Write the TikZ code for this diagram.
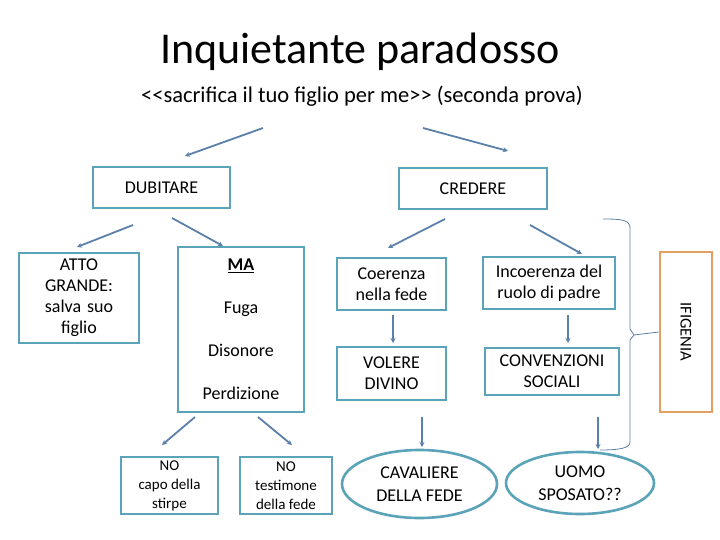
\documentclass[tikz,border=0pt]{standalone}
\usepackage{fontspec}
\setmainfont{Carlito}
\usetikzlibrary{arrows.meta,shapes.geometric}
\definecolor{boxc}{HTML}{5BA3B9}
\definecolor{arrc}{HTML}{5B80AA}
\definecolor{orc}{HTML}{E3A061}
\tikzset{
  box/.style={draw=boxc,line width=2.6pt,fill=white,align=center,inner sep=1pt,font=\fontsize{18}{21}\selectfont},
  ell/.style={ellipse,draw=boxc,line width=2.6pt,fill=white,align=center,inner sep=0pt,font=\fontsize{18}{23}\selectfont},
  arr/.style={draw=arrc,line width=1.8pt,-{Stealth[length=5pt,width=5pt]}},
  thin/.style={draw=arrc,line width=0.8pt},
}
\begin{document}
\begin{tikzpicture}[x=1pt,y=-1pt]
\useasboundingbox[fill=white] (0,0) rectangle (720,540);
\node[font=\fontsize{44}{48}\selectfont] (title) at (360,52) {Inquietante paradosso};
\node[font=\fontsize{22.5}{26}\selectfont] (sub) at (362,96) {{<}{<}sacrifica il tuo figlio per me{>}{>} (seconda prova)};

\node[box,minimum width=137pt,minimum height=41pt] (dub) at (161.5,187.5) {DUBITARE};
\node[box,minimum width=148pt,minimum height=41pt] (cre) at (473,188.5) {CREDERE};
\node[box,minimum width=120pt,minimum height=90pt,text width=116pt] (atto) at (79,298) {ATTO\\GRANDE:\\salva suo\\figlio};
\node[box,minimum width=126pt,minimum height=165pt,text width=120pt,font=\fontsize{18}{43}\selectfont] (ma) at (241,329.5) {\textbf{\underline{MA}}\\Fuga\\Disonore\\Perdizione};
\node[box,minimum width=109pt,minimum height=52pt] (coe) at (391.5,284) {Coerenza\\nella fede};
\node[box,minimum width=109pt,minimum height=53pt] (vol) at (391.5,373.5) {VOLERE\\DIVINO};
\node[box,minimum width=132pt,minimum height=52pt] (inc) at (549,283) {Incoerenza del\\ruolo di padre};
\node[box,minimum width=134pt,minimum height=47pt] (con) at (552,371.5) {CONVENZIONI\\SOCIALI};
\node[box,draw=orc,minimum width=52pt,minimum height=160pt] (ifi) at (686,332) {};
\node[rotate=-90,font=\fontsize{16.5}{18}\selectfont] (ifit) at (ifi.center) {IFIGENIA};
\node[box,minimum width=97pt,minimum height=57pt,font=\fontsize{15}{19}\selectfont] (nocapo) at (169.5,485.5) {NO\\capo della\\stirpe};
\node[box,minimum width=92pt,minimum height=57pt,font=\fontsize{15}{19}\selectfont] (notest) at (286,485.5) {NO\\testimone\\della fede};
\node[ell,minimum width=155pt,minimum height=68pt] (cav) at (419.5,484) {CAVALIERE\\DELLA FEDE};
\node[ell,minimum width=148pt,minimum height=62pt] (uomo) at (580,483) {UOMO\\SPOSATO??};

% arrow end points
\coordinate (s1) at (263,128); \coordinate (e1) at (185,156);
\coordinate (s2) at (423,128); \coordinate (e2) at (508,151);
\coordinate (s3) at (133,225); \coordinate (e3) at (77,247);
\coordinate (s4) at (172,218); \coordinate (e4) at (223,246);
\coordinate (s5) at (445,219); \coordinate (e5) at (388,248);
\coordinate (s6) at (530,225); \coordinate (e6) at (582,254);
\coordinate (s7) at (393,315); \coordinate (e7) at (393,343);
\coordinate (s8) at (568,315); \coordinate (e8) at (568,343);
\coordinate (s9) at (195,417); \coordinate (e9) at (162,445);
\coordinate (s10) at (258,417); \coordinate (e10) at (292,445);
\coordinate (s11) at (422,417); \coordinate (e11) at (422,447);
\coordinate (s12) at (598,417); \coordinate (e12) at (598,449);

\draw[arr] (s1) -- (e1);
\draw[arr] (s2) -- (e2);
\draw[arr] (s3) -- (e3);
\draw[arr] (s4) -- (e4);
\draw[arr] (s5) -- (e5);
\draw[arr] (s6) -- (e6);
\draw[arr] (s7) -- (e7);
\draw[arr] (s8) -- (e8);
\draw[arr] (s9) -- (e9);
\draw[arr] (s10) -- (e10);
\draw[arr] (s11) -- (e11);
\draw[arr] (s12) -- (e12);

% bracket
\coordinate (bt) at (603,219);
\coordinate (bb) at (600,450);
\coordinate (tip) at (634,335);
\draw[thin] (bt) .. controls (622,219) and (630,220) .. (630,228) -- (630,329) -- (tip) -- (630,340) -- (630,442) .. controls (630,448) and (620,450) .. (bb);
\draw[thin] (tip) -- (ifi.west);
\end{tikzpicture}
\end{document}
